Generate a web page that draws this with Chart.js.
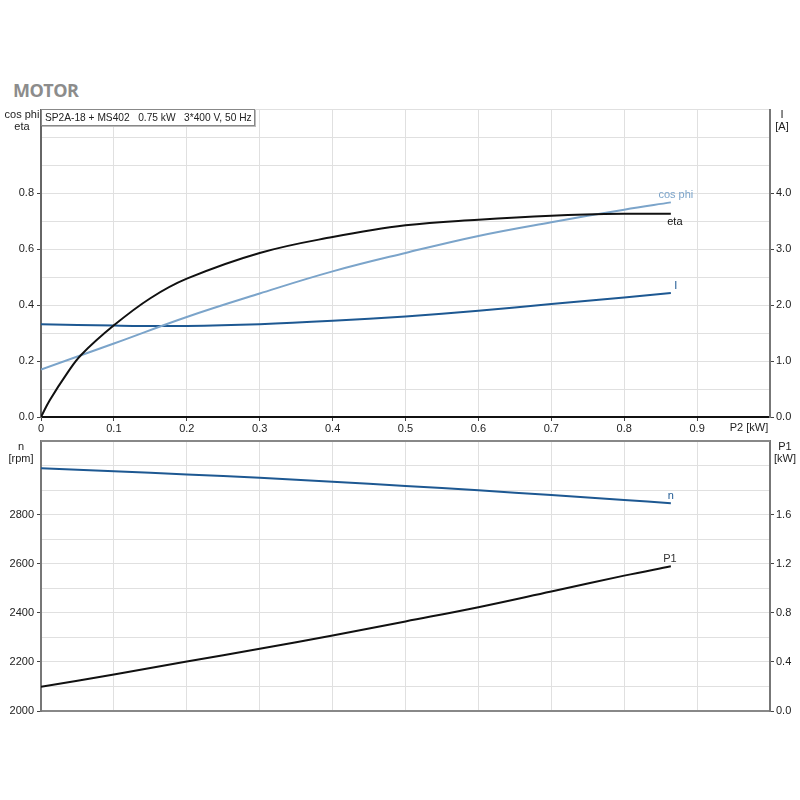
<!DOCTYPE html>
<html>
<head>
<meta charset="utf-8">
<script src="https://cdn.jsdelivr.net/npm/chart.js@4/dist/chart.umd.min.js"></script>
<style>
  body { margin: 0; background: #fff; }
  #wrap { position: relative; width: 800px; height: 800px; font-family: "Liberation Sans", Arial, sans-serif; color: #222; }
  canvas { position: absolute; left: 0; }
  .lbl { position: absolute; font-size: 11px; line-height: 12px; text-align: center; white-space: nowrap; }
  #title { position: absolute; left: 13px; top: 78px; font-family: "Open Sans", sans-serif; font-weight: bold; font-size: 18px; color: #8c8c8c; letter-spacing: -0.5px; }
  #info { position: absolute; left: 41px; top: 109px; height: 15px; border: 1px solid #888; box-shadow: 1px 1px 0 #bbb; background: #fff; font-size: 10.2px; line-height: 15px; padding: 0 2px 0 3px; white-space: pre; z-index: 2; }
</style>
</head>
<body>
<div id="wrap">
  <div id="title">MOTOR</div>
  <canvas id="topChart" width="800" height="345" style="top:100px"></canvas>
  <canvas id="bottomChart" width="800" height="300" style="top:430px"></canvas>
  <div id="info">SP2A-18 + MS402   0.75 kW   3*400 V, 50 Hz</div>
  <div class="lbl" style="left:2px;top:108px;width:40px">cos phi<br>eta</div>
  <div class="lbl" style="left:772px;top:108px;width:20px">I<br>[A]</div>
  <div class="lbl" style="left:729px;top:421px;width:40px">P2 [kW]</div>
  <div class="lbl" style="left:1px;top:440px;width:40px">n<br>[rpm]</div>
  <div class="lbl" style="left:771px;top:440px;width:28px">P1<br>[kW]</div>
</div>
<script>
// P2 [kW] on the x axis
const p2 = [0, 0.1, 0.2, 0.3, 0.4, 0.5, 0.6, 0.7, 0.8, 0.864];
const etaP2 = [0, 0.012, 0.036, 0.055, 0.1, 0.15, 0.2, 0.3, 0.4, 0.5, 0.6, 0.7, 0.8, 0.864];

const eta = [0, 0.06, 0.157, 0.222, 0.328, 0.425, 0.495, 0.587, 0.644, 0.686, 0.706, 0.72, 0.727, 0.727];
const cosPhi = [0.17, 0.263, 0.358, 0.442, 0.521, 0.587, 0.648, 0.697, 0.742, 0.768];
const current = [1.66, 1.635, 1.63, 1.66, 1.72, 1.8, 1.9, 2.02, 2.14, 2.22];
const speed = [2989, 2977, 2964, 2950, 2934, 2917, 2899, 2880, 2860, 2846];
const p1 = [0.197, 0.298, 0.403, 0.507, 0.615, 0.73, 0.846, 0.974, 1.103, 1.179];

const xTicks = ["0", "0.1", "0.2", "0.3", "0.4", "0.5", "0.6", "0.7", "0.8", "0.9"];

const lightBlue = "#7ba4ca";
const darkBlue = "#1d5892";
const black = "#111";
const gridColor = "#e0e0e0";

Chart.defaults.font.family = '"Liberation Sans", Arial, sans-serif';
Chart.defaults.font.size = 11;
Chart.defaults.color = "#222";

function pts(xs, ys) {
  return xs.map((x, i) => ({ x: x, y: ys[i] }));
}

function line(label, xs, ys, color, axis, endLabel) {
  return {
    label: label,
    data: pts(xs, ys),
    borderColor: color,
    borderWidth: 2,
    pointRadius: 0,
    fill: false,
    tension: 0.4,
    yAxisID: axis,
    endLabel: endLabel,
  };
}

// writes the curve name next to the last point
const endLabels = {
  id: "endLabels",
  afterDatasetsDraw(chart) {
    const ctx = chart.ctx;
    chart.data.datasets.forEach((ds, i) => {
      const el = ds.endLabel;
      if (!el) return;
      const pts = chart.getDatasetMeta(i).data;
      const last = pts[pts.length - 1];
      ctx.save();
      ctx.font = '11px "Liberation Sans", Arial, sans-serif';
      ctx.fillStyle = el.color || ds.borderColor;
      ctx.textAlign = "center";
      ctx.textBaseline = el.baseline;
      ctx.fillText(el.text, last.x + el.dx, last.y + el.dy);
      ctx.restore();
    });
  },
};

const topBorder = {
  id: "topBorder",
  afterDraw(chart) {
    if (!chart.options.plugins.topBorder) return;
    const a = chart.chartArea;
    const ctx = chart.ctx;
    ctx.save();
    ctx.strokeStyle = "#888";
    ctx.lineWidth = 2;
    ctx.beginPath();
    ctx.moveTo(a.left, a.top);
    ctx.lineTo(a.right, a.top);
    ctx.stroke();
    ctx.restore();
  },
};

function tenth(v) {
  return Math.round(v * 10);
}

function xScale(showTicks, borderColor, h) {
  return {
    type: "linear",
    min: 0,
    max: 1.0,
    afterFit: (s) => { s.height = h; },
    ticks: {
      display: showTicks,
      stepSize: 0.1,
      autoSkip: false,
      maxRotation: 0,
      padding: 1,
      callback: (v) => (tenth(v) < 10 ? xTicks[tenth(v)] : ""),
    },
    grid: {
      color: gridColor,
      drawTicks: showTicks,
      tickLength: 4,
      tickColor: (c) => (c.tick && tenth(c.tick.value) < 10 ? "#444" : "rgba(0,0,0,0)"),
    },
    border: { color: borderColor, width: 2 },
  };
}

new Chart(document.getElementById("topChart"), {
  type: "line",
  data: {
    datasets: [
      line("eta", etaP2, eta, black, "y", { text: "eta", dx: 4, dy: 3, baseline: "top" }),
      line("cos phi", p2, cosPhi, lightBlue, "y", { text: "cos phi", dx: 5, dy: -2, baseline: "bottom" }),
      line("I", p2, current, darkBlue, "y2", { text: "I", dx: 5, dy: -1, baseline: "bottom" }),
    ],
  },
  options: {
    responsive: false,
    animation: false,
    devicePixelRatio: 1,
    layout: { padding: { top: 9, left: 0, right: 0, bottom: 0 } },
    plugins: { legend: { display: false }, tooltip: { enabled: false } },
    scales: {
      x: xScale(true, black, 28),
      y: {
        position: "left",
        min: 0,
        max: 1.1,
        afterFit: (s) => { s.width = 41; },
        ticks: {
          stepSize: 0.1,
          autoSkip: false,
          padding: 3,
          callback: (v) => (tenth(v) % 2 === 0 && tenth(v) <= 8 ? v.toFixed(1) : ""),
        },
        grid: {
          color: gridColor,
          tickLength: 4,
          tickColor: (c) => (c.tick && tenth(c.tick.value) % 2 === 0 && tenth(c.tick.value) <= 8 ? "#444" : "rgba(0,0,0,0)"),
        },
        border: { color: "#666", width: 2 },
      },
      y2: {
        position: "right",
        min: 0,
        max: 5.5,
        afterFit: (s) => { s.width = 30; },
        ticks: {
          stepSize: 0.5,
          autoSkip: false,
          padding: 2,
          callback: (v) => (Math.round(v * 2) % 2 === 0 && v <= 4 ? v.toFixed(1) : ""),
        },
        grid: {
          drawOnChartArea: false,
          tickLength: 4,
          tickColor: (c) => (c.tick && Math.round(c.tick.value * 2) % 2 === 0 && c.tick.value <= 4 ? "#444" : "rgba(0,0,0,0)"),
        },
        border: { color: "#777", width: 2 },
      },
    },
  },
  plugins: [endLabels],
});

new Chart(document.getElementById("bottomChart"), {
  type: "line",
  data: {
    datasets: [
      line("n", p2, speed, darkBlue, "y", { text: "n", dx: 0, dy: -2, baseline: "bottom" }),
      line("P1", p2, p1, black, "y2", { text: "P1", dx: -1, dy: -2, baseline: "bottom", color: "#333" }),
    ],
  },
  options: {
    responsive: false,
    animation: false,
    devicePixelRatio: 1,
    layout: { padding: { top: 11, left: 0, right: 0, bottom: 0 } },
    plugins: { legend: { display: false }, tooltip: { enabled: false }, topBorder: true },
    scales: {
      x: xScale(false, "#888", 19),
      y: {
        position: "left",
        min: 2000,
        max: 3100,
        afterFit: (s) => { s.width = 41; },
        ticks: {
          stepSize: 100,
          autoSkip: false,
          padding: 3,
          callback: (v) => (v % 200 === 0 && v <= 2800 ? String(v) : ""),
        },
        grid: {
          color: gridColor,
          tickLength: 4,
          tickColor: (c) => (c.tick && c.tick.value % 200 === 0 && c.tick.value <= 2800 ? "#444" : "rgba(0,0,0,0)"),
        },
        border: { color: "#777", width: 2 },
      },
      y2: {
        position: "right",
        min: 0,
        max: 2.2,
        afterFit: (s) => { s.width = 30; },
        ticks: {
          stepSize: 0.2,
          autoSkip: false,
          padding: 2,
          callback: (v) => (tenth(v) % 4 === 0 && tenth(v) <= 16 ? v.toFixed(1) : ""),
        },
        grid: {
          drawOnChartArea: false,
          tickLength: 4,
          tickColor: (c) => (c.tick && tenth(c.tick.value) % 4 === 0 && tenth(c.tick.value) <= 16 ? "#444" : "rgba(0,0,0,0)"),
        },
        border: { color: "#777", width: 2 },
      },
    },
  },
  plugins: [endLabels, topBorder],
});
</script>
</body>
</html>
